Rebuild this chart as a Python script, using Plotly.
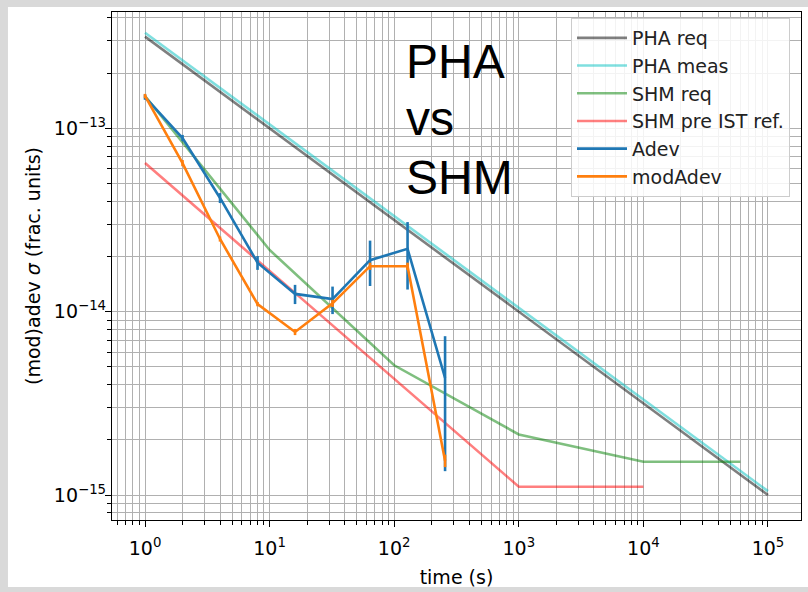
import plotly.graph_objects as go

# ---- data -------------------------------------------------------------
tau_req = [1, 1e5]
pha_req = [3.16e-13, 1.0e-15]
pha_meas = [3.32e-13, 1.05e-15]

tau_shm_req = [1, 10, 100, 1000, 1e4, 6e4]
shm_req = [1.5e-13, 2.17e-14, 5.1e-15, 2.14e-15, 1.52e-15, 1.52e-15]

tau_shm_pre = [1, 1000, 1e4]
shm_pre = [6.47e-14, 1.11e-15, 1.11e-15]

taus = [1, 2, 4, 8, 16, 32, 64, 128, 256]
adev = [1.48e-13, 8.85e-14, 4.17e-14, 1.85e-14, 1.25e-14, 1.17e-14, 1.91e-14, 2.20e-14, 4.35e-15]
adev_err = [0.5e-14, 0.35e-14, 0.26e-14, 0.16e-14, 0.15e-14, 0.2e-14, 0.53e-14, 0.88e-14, 3.0e-15]
mdev = [1.5e-13, 6.46e-14, 2.49e-14, 1.10e-14, 7.75e-15, 1.11e-14, 1.77e-14, 1.77e-14, 1.54e-15]
mdev_err = [0.4e-14, 0.25e-14, 0.08e-14, 0.03e-14, 0.03e-14, 0.05e-14, 0.08e-14, 0.08e-14, 0.12e-15]

x_ticks = [1, 10, 100, 1000, 1e4, 1e5]
x_ticktext = ["10<sup>0</sup>", "10<sup>1</sup>", "10<sup>2</sup>",
              "10<sup>3</sup>", "10<sup>4</sup>", "10<sup>5</sup>"]
y_ticks = [1e-15, 1e-14, 1e-13]
y_ticktext = ["10<sup>\u221215</sup>", "10<sup>\u221214</sup>", "10<sup>\u221213</sup>"]

# ---- styling ----------------------------------------------------------
LW = 2.6
FONT = "DejaVu Sans"
FS = 19
GRID = "#b0b0b0"

fig = go.Figure()


def line(x, y, name, color):
    fig.add_trace(go.Scatter(x=x, y=y, mode="lines", name=name, legendgroup=name,
                             line=dict(color=color, width=LW)))


line(tau_req, pha_req, "PHA req", "rgba(0,0,0,0.5)")
line(tau_req, pha_meas, "PHA meas", "rgba(0,191,191,0.5)")
line(tau_shm_req, shm_req, "SHM req", "rgba(0,128,0,0.5)")
line(tau_shm_pre, shm_pre, "SHM pre IST ref.", "rgba(255,0,0,0.5)")

for name, vals, errs, color in [("Adev", adev, adev_err, "#1f77b4"),
                                ("modAdev", mdev, mdev_err, "#ff7f0e")]:
    fig.add_trace(go.Scatter(
        x=taus, y=vals, mode="lines", name=name, legendgroup=name,
        line=dict(color=color, width=LW),
        error_y=dict(type="data", array=errs, symmetric=True,
                     color=color, thickness=LW, width=0)))


def minor_vals(lo, hi):
    out = []
    for e in range(lo, hi + 1):
        for m in range(2, 10):
            out.append(m * 10.0 ** e)
    return out


axis_common = dict(
    type="log", showline=True, mirror=True, linecolor="black", linewidth=1.3,
    ticks="outside", ticklen=6, tickwidth=1.2, tickcolor="black",
    showgrid=True, gridcolor=GRID, gridwidth=1.2, zeroline=False,
    tickfont=dict(family=FONT, size=FS, color="black"),
)

fig.update_xaxes(
    **axis_common, range=[-0.265, 5.265], tickmode="array",
    tickvals=x_ticks, ticktext=x_ticktext, ticklabelstandoff=5,
    minor=dict(tickmode="array", tickvals=[v for v in minor_vals(-1, 4) if 0.55 < v < 1.8e5],
               ticks="outside", ticklen=3.5, tickwidth=1.0, tickcolor="black",
               showgrid=True, gridcolor=GRID, gridwidth=1.2),
    title=dict(text="time (s)", font=dict(family=FONT, size=FS, color="black"), standoff=12),
)
fig.update_yaxes(
    **axis_common, range=[-15.136, -12.366], tickmode="array",
    tickvals=y_ticks, ticktext=y_ticktext, ticklabelstandoff=-5,
    minor=dict(tickmode="array", tickvals=[v for v in minor_vals(-16, -13) if 7.3e-16 < v < 4.3e-13],
               ticks="outside", ticklen=3.5, tickwidth=1.0, tickcolor="black",
               showgrid=True, gridcolor=GRID, gridwidth=1.2),
    title=dict(text="(mod)adev <i>\u03c3</i> (frac. units)",
               font=dict(family=FONT, size=FS, color="black"), standoff=8),
)

# white page inside the grey frame
fig.add_shape(type="rect", xref="paper", yref="paper",
              x0=-0.151, x1=1.011, y0=-0.132, y1=1.0098,
              fillcolor="white", line=dict(width=0), layer="below")

for txt, yc in [("PHA", 61), ("vs", 119), ("SHM", 177)]:
    fig.add_annotation(text=txt, xref="paper", yref="paper",
                       x=(404 - 112) / 689, y=(520 - yc) / 508,
                       xanchor="left", yanchor="middle", showarrow=False,
                       font=dict(family="Liberation Sans", size=48, color="black"))

fig.update_layout(
    width=808, height=592,
    margin=dict(l=112, r=7, t=12, b=72),
    paper_bgcolor="#d9d9d9", plot_bgcolor="white",
    showlegend=True,
    legend=dict(x=(790 - 112) / 689, y=(520 - 18) / 508, xanchor="right", yanchor="top",
                bgcolor="rgba(255,255,255,0.85)", bordercolor="#cccccc", borderwidth=1,
                font=dict(family=FONT, size=FS, color="#222222"),
                tracegroupgap=0, itemwidth=50),
)

fig.write_html("out.html")
